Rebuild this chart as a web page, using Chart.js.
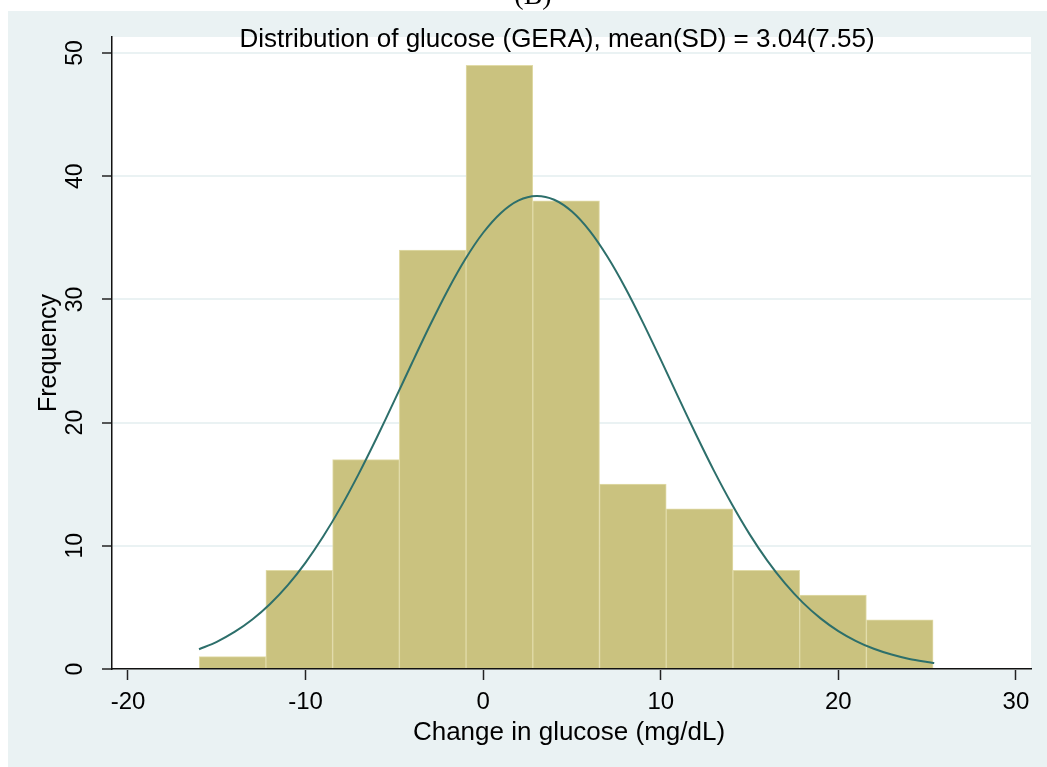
<!DOCTYPE html>
<html>
<head>
<meta charset="utf-8">
<script src="https://cdn.jsdelivr.net/npm/chart.js@4"></script>
<style>
  html, body { margin: 0; padding: 0; background: #fff; }
  #wrap { width: 1047px; height: 767px; position: relative; }
</style>
</head>
<body>
<div id="wrap"><canvas id="hist"></canvas></div>
<script>
// histogram of change in glucose (mg/dL): 11 bins starting at the sample minimum
const binStart = -15.99;
const binWidth = 3.757;
const frequencies = [1, 8, 17, 34, 49, 38, 15, 13, 8, 6, 4];

// overlaid normal density, scaled to frequency
const curveX = [-16, -15, -14, -13, -12, -11, -10, -9, -8, -7, -6, -5, -4, -3, -2, -1, 0, 1, 2, 3,
  4, 5, 6, 7, 8, 9, 10, 11, 12, 13, 14, 15, 16, 17, 18, 19, 20, 21, 22, 23, 24, 25, 25.4];
const curveY = [1.60, 2.21, 3.01, 4.02, 5.28, 6.81, 8.64, 10.77, 13.18, 15.86, 18.75, 21.78, 24.86, 27.88,
  30.73, 33.28, 35.41, 37.02, 38.04, 38.40, 38.09, 37.13, 35.56, 33.46, 30.95, 28.12, 25.11, 22.03,
  18.99, 16.08, 13.39, 10.95, 8.80, 6.95, 5.39, 4.11, 3.08, 2.27, 1.64, 1.17, 0.81, 0.56, 0.48];

const xTicks = [-20, -10, 0, 10, 20, 30];
const yTicks = [0, 10, 20, 30, 40, 50];

const titleText = 'Distribution of glucose (GERA), mean(SD) = 3.04(7.55)';
const xTitle = 'Change in glucose (mg/dL)';
const yTitle = 'Frequency';
const panelTag = '(B)';

const sans = '"Liberation Sans", Arial, sans-serif';

// light blue graph region with a white plot region on top
const backdrop = {
  id: 'backdrop',
  beforeDraw(chart) {
    const { ctx, chartArea: a, width, height } = chart;
    ctx.save();
    ctx.fillStyle = '#eaf2f3';
    ctx.fillRect(8, 11, width - 8, height - 11);
    ctx.fillStyle = '#fff';
    ctx.fillRect(a.left, a.top, a.right - a.left, a.bottom - a.top);
    ctx.restore();
  }
};

// rotated y labels, axis titles and the heading
const labels = {
  id: 'labels',
  afterDraw(chart) {
    const { ctx } = chart;
    const y = chart.scales.y;
    ctx.save();
    ctx.fillStyle = '#000';
    ctx.textAlign = 'center';
    ctx.textBaseline = 'middle';

    ctx.font = '23px ' + sans;
    yTicks.forEach(v => {
      ctx.save();
      ctx.translate(76, y.getPixelForValue(v));
      ctx.rotate(-Math.PI / 2);
      ctx.fillText(String(v), 0, 0);
      ctx.restore();
    });

    ctx.font = '25px ' + sans;
    ctx.save();
    ctx.translate(49, (y.top + y.bottom) / 2);
    ctx.rotate(-Math.PI / 2);
    ctx.fillText(yTitle, 0, 0);
    ctx.restore();

    ctx.textBaseline = 'alphabetic';
    ctx.font = '26px ' + sans;
    ctx.fillText(titleText, 557, 47);
    ctx.fillText(xTitle, 569, 740);

    ctx.font = '28px "Liberation Serif", serif';
    ctx.fillText(panelTag, 533, 4);
    ctx.restore();
  }
};

new Chart(document.getElementById('hist'), {
  type: 'bar',
  data: {
    datasets: [
      {
        type: 'line',
        data: curveX.map((x, i) => ({ x: x, y: curveY[i] })),
        borderColor: '#2d6f6b',
        borderWidth: 2,
        pointRadius: 0,
        tension: 0.3,
        order: 0
      },
      {
        type: 'bar',
        data: frequencies.map((f, i) => ({ x: binStart + binWidth * (i + 0.5), y: f })),
        backgroundColor: '#cac27f',
        borderColor: '#e1dba8',
        borderWidth: 1,
        barPercentage: 1,
        categoryPercentage: 1,
        order: 1
      }
    ]
  },
  options: {
    responsive: true,
    maintainAspectRatio: false,
    animation: false,
    layout: { padding: { top: 37, right: 16, left: 0, bottom: 0 } },
    plugins: { legend: { display: false }, tooltip: { enabled: false } },
    scales: {
      x: {
        type: 'linear',
        min: -20.9,
        max: 30.85,
        offset: false,
        afterBuildTicks: s => { s.ticks = xTicks.map(v => ({ value: v })); },
        afterFit: s => { s.height = 98; },
        grid: { offset: false, drawOnChartArea: false, tickLength: 11, tickColor: '#222', tickWidth: 1.5 },
        border: { color: '#111', width: 1.5 },
        ticks: { font: { family: sans, size: 24 }, color: '#000', padding: 8, maxRotation: 0 }
      },
      y: {
        min: 0,
        max: 51.3,
        afterBuildTicks: s => { s.ticks = yTicks.map(v => ({ value: v })); },
        afterFit: s => { s.width = 112; },
        grid: { color: '#eaf2f3', lineWidth: 2, tickLength: 10, tickColor: '#222', tickWidth: 1.5 },
        border: { color: '#111', width: 1.5 },
        ticks: { display: false }
      }
    }
  },
  plugins: [backdrop, labels]
});
</script>
</body>
</html>
